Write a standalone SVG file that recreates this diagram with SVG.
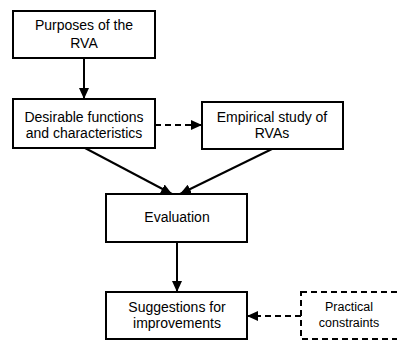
<svg xmlns="http://www.w3.org/2000/svg" width="397" height="341" viewBox="0 0 397 341">
<style>
.box{fill:#fff;stroke:#000;stroke-width:2}
.dbox{fill:#fff;stroke:#000;stroke-width:2;stroke-dasharray:6,4}
.t{font-family:"Liberation Sans",Arial,sans-serif;font-size:14px;text-anchor:middle;fill:#000}
.ts{font-family:"Liberation Sans",Arial,sans-serif;font-size:12.5px;text-anchor:middle;fill:#000}
.c{stroke:#000;stroke-width:2;fill:none;marker-end:url(#ah)}
.cd{stroke:#000;stroke-width:2;fill:none;stroke-dasharray:6,4;marker-end:url(#ah)}
</style>
<defs>
<marker id="ah" markerWidth="11" markerHeight="10" refX="11" refY="5" orient="auto" markerUnits="userSpaceOnUse">
<path d="M0,0 L11,5 L0,10 z" fill="#000"/>
</marker>
</defs>
<rect width="397" height="341" fill="#fff"/>
<g id="connectors">
<line class="c" x1="84" y1="58" x2="84" y2="99"/>
<line class="cd" x1="155" y1="125" x2="202" y2="125"/>
<line class="c" x1="85" y1="148" x2="172" y2="194"/>
<line class="c" x1="272" y1="149" x2="180" y2="194"/>
<line class="c" x1="177" y1="242" x2="177" y2="292"/>
<line class="cd" x1="301" y1="316" x2="247" y2="316"/>
</g>
<g id="n1"><rect class="box" x="13" y="11" width="142" height="47"/><text class="t" x="84" y="30">Purposes of the</text><text class="t" x="84" y="48">RVA</text></g>
<g id="n2"><rect class="box" x="13" y="99" width="142" height="49"/><text class="t" x="84" y="122">Desirable functions</text><text class="t" x="84" y="138">and characteristics</text></g>
<g id="n3"><rect class="box" x="202" y="102" width="141" height="47"/><text class="t" x="272" y="122">Empirical study of</text><text class="t" x="272" y="138">RVAs</text></g>
<g id="n4"><rect class="box" x="106" y="194" width="141" height="48"/><text class="t" x="177" y="222">Evaluation</text></g>
<g id="n5"><rect class="box" x="106" y="292" width="141" height="47"/><text class="t" x="177" y="312">Suggestions for</text><text class="t" x="177" y="328">improvements</text></g>
<g id="n6"><rect class="dbox" x="301" y="292" width="100" height="47"/><text class="ts" x="349" y="311">Practical</text><text class="ts" x="349" y="327">constraints</text></g>
</svg>
